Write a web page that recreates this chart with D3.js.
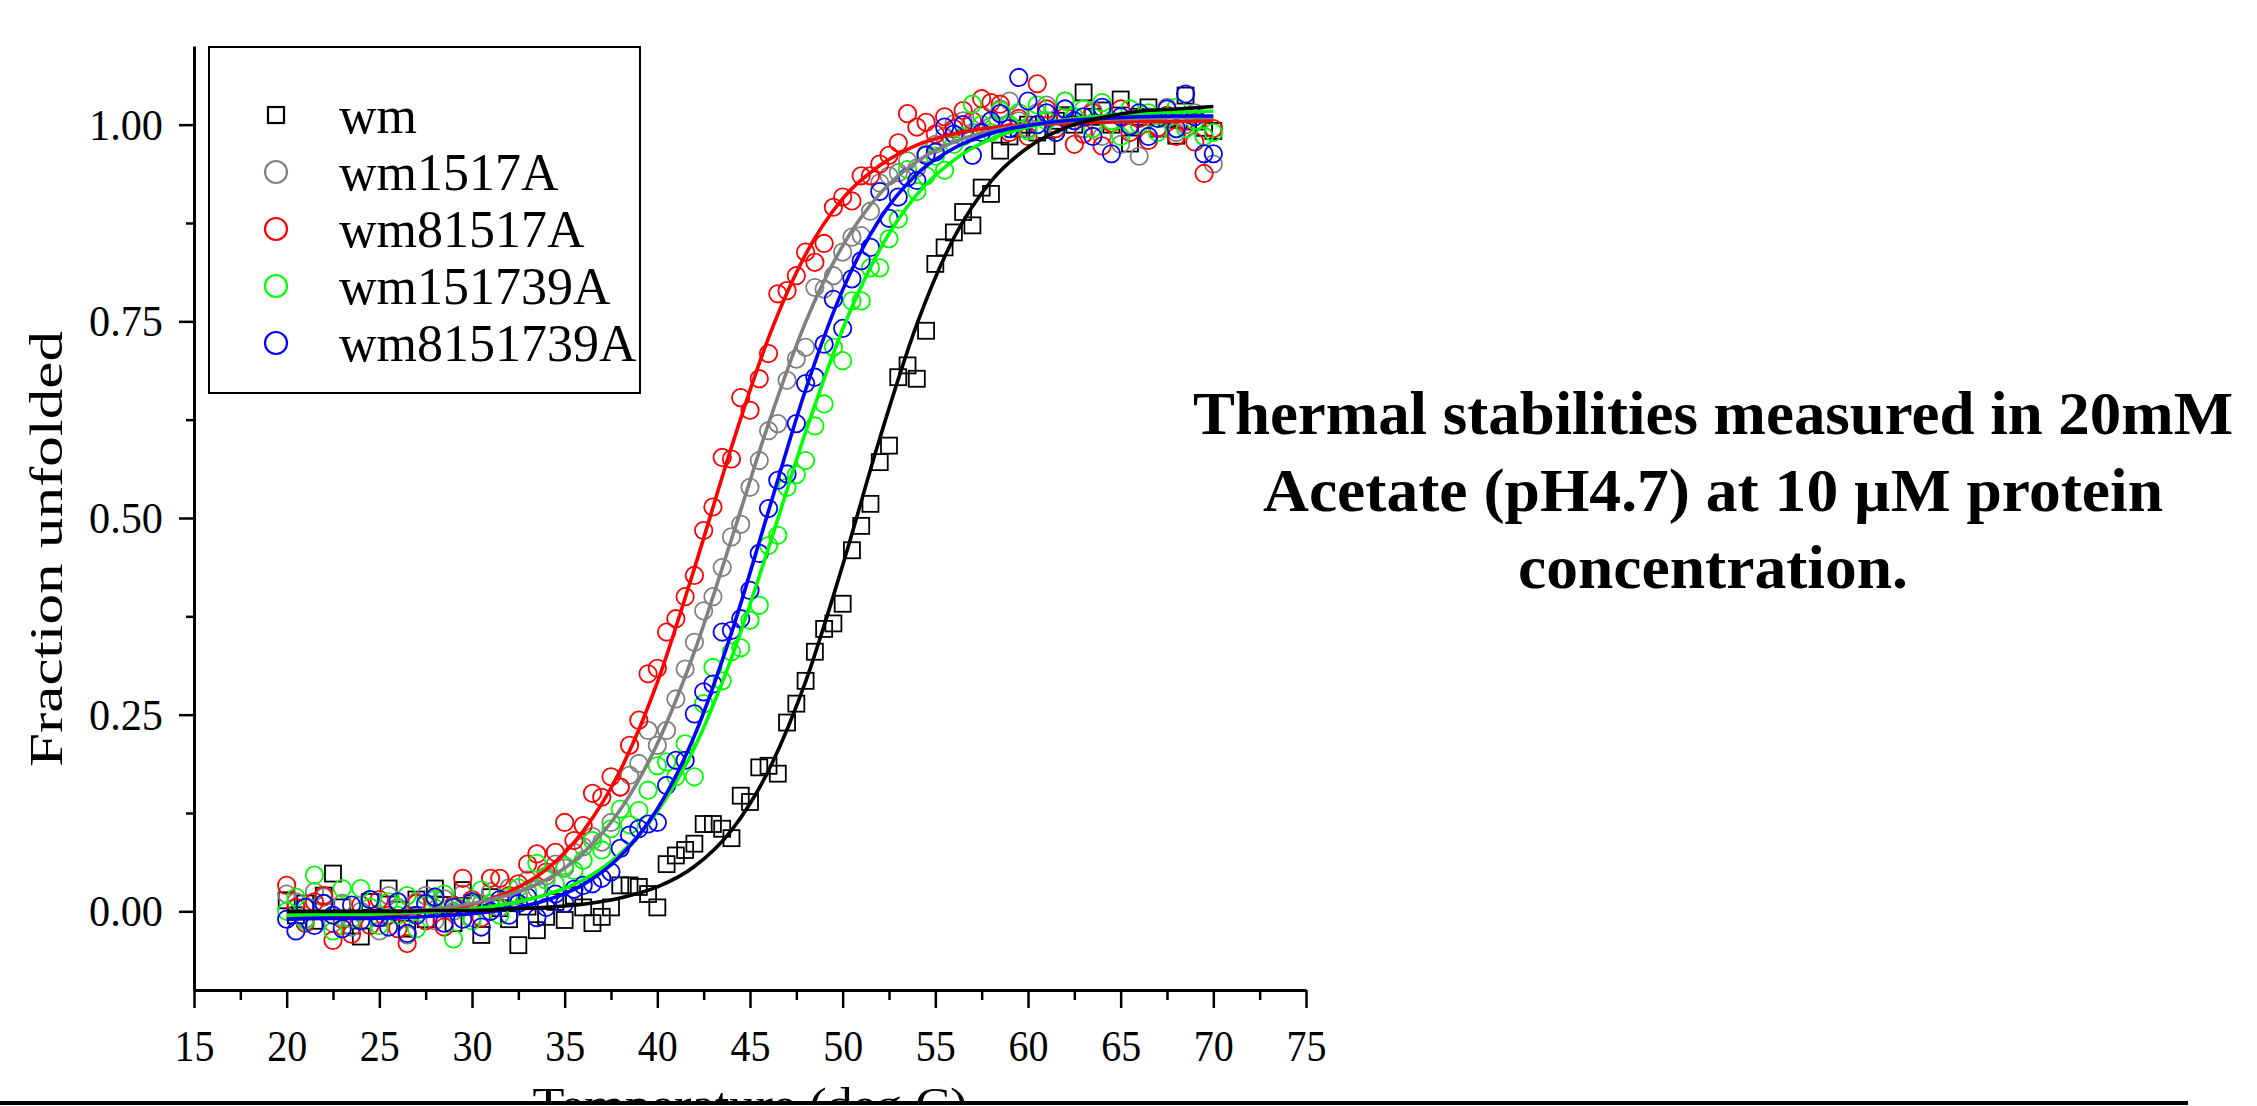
<!DOCTYPE html>
<html>
<head>
<meta charset="utf-8">
<title>Thermal stabilities</title>
<script src="https://cdn.jsdelivr.net/npm/d3@7"></script>
<style>
body { margin: 0; background: #fff; }
text { font-family: "Liberation Serif", "Times New Roman", serif; }
</style>
</head>
<body>
<svg width="2257" height="1106"></svg>
<script>
// measurement grid (deg C)
var temps = [20,20.5,21,21.5,22,22.5,23,23.5,24,24.5,25,25.5,26,26.5,27,27.5,28,28.5,29,29.5,
  30,30.5,31,31.5,32,32.5,33,33.5,34,34.5,35,35.5,36,36.5,37,37.5,38,38.5,39,39.5,
  40,40.5,41,41.5,42,42.5,43,43.5,44,44.5,45,45.5,46,46.5,47,47.5,48,48.5,49,49.5,
  50,50.5,51,51.5,52,52.5,53,53.5,54,54.5,55,55.5,56,56.5,57,57.5,58,58.5,59,59.5,
  60,60.5,61,61.5,62,62.5,63,63.5,64,64.5,65,65.5,66,66.5,67,67.5,68,68.5,69,69.5,70];

var wm = [0.014,-0.005,0.010,-0.012,0.020,0.048,0.005,-0.018,-0.032,0.012,
  -0.008,0.029,0.002,-0.022,0.015,-0.010,0.029,0.008,-0.015,0.027,
  0.010,-0.030,0.018,0.004,-0.010,-0.043,0.006,-0.024,-0.007,0.012,
  -0.011,0.020,0.005,-0.015,-0.007,0.005,0.033,0.033,0.031,0.022,
  0.005,0.060,0.071,0.078,0.086,0.111,0.111,0.105,0.093,0.147,
  0.139,0.183,0.185,0.175,0.240,0.264,0.293,0.330,0.359,0.366,
  0.391,0.459,0.490,0.518,0.571,0.592,0.679,0.694,0.677,0.738,
  0.823,0.844,0.863,0.889,0.872,0.920,0.912,0.967,0.985,0.995,
  1.000,0.990,0.973,1.005,1.012,1.000,1.041,1.010,1.018,1.000,
  1.032,0.976,1.010,1.022,0.995,1.008,0.986,1.037,1.004,0.996,0.992];

var wm1517A = [0.022,0.012,-0.010,0.025,0.018,-0.015,0.010,-0.020,0.000,0.015,
  -0.025,0.020,0.005,-0.030,0.012,0.020,-0.012,0.016,0.000,0.022,
  -0.008,0.010,0.025,0.005,0.030,0.020,0.040,0.028,0.045,0.060,
  0.055,0.075,0.082,0.095,0.088,0.113,0.158,0.173,0.188,0.230,
  0.211,0.230,0.270,0.308,0.342,0.382,0.400,0.437,0.476,0.492,
  0.539,0.573,0.611,0.620,0.675,0.702,0.717,0.793,0.791,0.808,
  0.838,0.857,0.859,0.890,0.926,0.935,0.939,0.954,0.945,0.963,
  0.975,0.985,1.001,1.005,0.990,1.012,0.998,1.020,1.030,1.005,
  0.995,1.015,1.025,1.000,1.030,1.010,0.995,1.018,0.985,1.005,
  0.975,1.000,0.960,1.010,0.995,1.022,0.990,1.000,1.015,0.985,0.950];

var wm81517A = [0.033,0.005,-0.015,0.012,0.020,-0.037,-0.010,-0.029,0.008,-0.018,
  0.015,-0.005,-0.022,-0.041,0.010,-0.012,0.018,-0.020,0.008,0.042,
  0.015,-0.008,0.042,0.042,0.020,0.035,0.060,0.073,0.050,0.075,
  0.113,0.090,0.109,0.150,0.145,0.171,0.158,0.211,0.243,0.302,
  0.309,0.355,0.372,0.400,0.427,0.484,0.514,0.577,0.575,0.653,
  0.637,0.677,0.709,0.785,0.789,0.808,0.838,0.825,0.849,0.895,
  0.908,0.903,0.935,0.935,0.950,0.961,0.977,1.014,0.997,1.003,
  0.988,1.010,0.995,1.018,1.005,1.033,1.028,1.026,0.990,1.008,
  0.985,1.052,1.020,0.995,1.010,0.975,0.988,1.015,0.973,1.002,
  1.020,0.990,1.008,0.980,0.996,1.012,0.985,1.005,0.978,0.938,0.995];

var wm151739A = [0.000,0.018,-0.012,0.046,0.010,-0.025,0.029,-0.010,0.029,0.005,
  -0.018,0.012,-0.005,0.020,-0.022,0.008,0.015,0.022,-0.035,0.005,
  -0.012,0.027,0.010,-0.005,0.018,0.030,0.025,0.061,0.040,0.035,
  0.058,0.052,0.065,0.090,0.078,0.105,0.130,0.110,0.128,0.154,
  0.185,0.190,0.171,0.213,0.171,0.264,0.310,0.293,0.330,0.335,
  0.370,0.389,0.465,0.478,0.539,0.555,0.573,0.617,0.645,0.717,
  0.700,0.776,0.776,0.818,0.818,0.855,0.880,0.943,0.915,0.935,
  0.960,0.942,0.975,0.985,1.026,1.000,0.990,1.018,1.000,1.015,
  0.992,1.025,1.005,0.990,1.030,1.010,1.020,0.995,1.028,1.005,
  0.985,1.020,1.000,1.015,0.990,1.010,1.022,0.995,1.005,0.985,0.990];

var wm8151739A = [-0.010,-0.025,0.005,-0.018,0.010,-0.005,-0.022,0.008,-0.012,0.015,
  -0.008,-0.020,0.012,-0.028,-0.005,0.010,0.018,-0.015,0.005,-0.010,
  0.012,-0.020,0.000,0.015,-0.005,0.010,0.018,-0.008,0.005,0.022,
  0.010,0.028,0.033,0.035,0.042,0.050,0.080,0.097,0.105,0.111,
  0.113,0.160,0.192,0.192,0.251,0.279,0.289,0.355,0.357,0.372,
  0.408,0.455,0.512,0.548,0.556,0.620,0.671,0.679,0.721,0.778,
  0.741,0.804,0.827,0.844,0.915,0.881,0.908,0.933,0.929,0.961,
  0.965,0.997,0.988,1.000,0.961,0.990,1.005,1.014,0.995,1.060,
  1.030,1.000,1.015,0.990,1.020,1.005,1.010,0.985,1.022,0.963,
  1.010,0.998,1.015,0.985,1.008,1.020,0.995,1.039,1.010,0.963,0.963];

// fitted curves, read every 2 deg C
var fitT = [20,22,24,26,28,30,32,34,36,38,40,42,44,46,48,50,52,54,56,58,60,62,64,66,68,70];
var wmFit = [0.000,0.000,0.000,0.000,0.001,0.001,0.003,0.005,0.009,0.017,0.031,0.057,0.103,0.179,0.292,0.440,0.601,0.746,0.856,0.928,0.971,0.996,1.009,1.017,1.020,1.023];
var wm1517AFit = [-0.004,-0.004,-0.002,0.000,0.003,0.010,0.021,0.040,0.074,0.129,0.213,0.330,0.473,0.620,0.749,0.846,0.912,0.953,0.978,0.992,1.000,1.004,1.007,1.008,1.009,1.009];
var wm81517AFit = [-0.009,-0.008,-0.007,-0.004,0.001,0.009,0.025,0.053,0.102,0.179,0.291,0.436,0.590,0.729,0.835,0.906,0.948,0.974,0.988,0.996,1.000,1.002,1.003,1.004,1.004,1.005];
var wm151739AFit = [-0.005,-0.004,-0.004,-0.002,0.000,0.003,0.010,0.021,0.040,0.073,0.127,0.208,0.322,0.462,0.609,0.740,0.841,0.911,0.955,0.982,0.997,1.006,1.011,1.014,1.016,1.017];
var wm8151739AFit = [-0.010,-0.009,-0.009,-0.008,-0.006,-0.003,0.003,0.014,0.034,0.070,0.130,0.223,0.354,0.509,0.663,0.790,0.880,0.937,0.970,0.989,0.999,1.005,1.008,1.010,1.011,1.011];

var names = ['wm', 'wm1517A', 'wm81517A', 'wm151739A', 'wm8151739A'];
var colors = ['#000000', '#808080', '#ff0000', '#00ff00', '#0000ff'];
var values = [wm, wm1517A, wm81517A, wm151739A, wm8151739A];
var fits = [wmFit, wm1517AFit, wm81517AFit, wm151739AFit, wm8151739AFit];

var xTicks = [15,20,25,30,35,40,45,50,55,60,65,70,75];
var xMinor = [17.5,22.5,27.5,32.5,37.5,42.5,47.5,52.5,57.5,62.5,67.5,72.5];
var yTicks = [0, 0.25, 0.5, 0.75, 1.0];
var yMinor = [0.125, 0.375, 0.625, 0.875];
var titleLines = ['Thermal stabilities measured in 20mM', 'Acetate (pH4.7) at 10 \u00b5M protein', 'concentration.'];

var svg = d3.select('svg');
svg.append('rect').attr('width', 2257).attr('height', 1106).attr('fill', '#fff');

var x = d3.scaleLinear().domain([15, 75]).range([194, 1306]);
var y = d3.scaleLinear().domain([-0.1, 1.1]).range([990, 46]);

// axes
var gx = svg.append('g').attr('transform', 'translate(0,990)')
    .call(d3.axisBottom(x).tickValues(xTicks).tickSize(18).tickPadding(21).tickSizeOuter(0));
svg.append('g').attr('transform', 'translate(0,990)')
    .call(d3.axisBottom(x).tickValues(xMinor).tickSize(10).tickFormat('').tickSizeOuter(0))
    .select('.domain').remove();
var gy = svg.append('g').attr('transform', 'translate(194,0)')
    .call(d3.axisLeft(y).tickValues(yTicks).tickFormat(d3.format('.2f')).tickSize(15).tickPadding(16).tickSizeOuter(0));
svg.append('g').attr('transform', 'translate(194,0)')
    .call(d3.axisLeft(y).tickValues(yMinor).tickSize(8).tickFormat('').tickSizeOuter(0))
    .select('.domain').remove();

svg.selectAll('.domain').attr('stroke', '#000').attr('stroke-width', 3);
svg.selectAll('.tick line').attr('stroke', '#000').attr('stroke-width', 2.5);
svg.selectAll('.tick text').attr('fill', '#000').attr('font-size', 45)
    .style('font-family', '"Liberation Serif", serif').attr('lengthAdjust', 'spacingAndGlyphs');
gx.selectAll('.tick text').attr('textLength', 40);
gy.selectAll('.tick text').attr('textLength', 74);

// data points
values.forEach(function(vals, s) {
    var g = svg.append('g');
    var pts = temps.map(function(t, i) { return [t, vals[i]]; });
    if (s === 0) {
        g.selectAll('rect').data(pts).enter().append('rect')
            .attr('x', function(d) { return x(d[0]) - 8; })
            .attr('y', function(d) { return y(d[1]) - 8; })
            .attr('width', 16).attr('height', 16)
            .attr('fill', 'none').attr('stroke', colors[s]).attr('stroke-width', 1.8);
    } else {
        g.selectAll('circle').data(pts).enter().append('circle')
            .attr('cx', function(d) { return x(d[0]); })
            .attr('cy', function(d) { return y(d[1]); })
            .attr('r', 8.7)
            .attr('fill', 'none').attr('stroke', colors[s]).attr('stroke-width', 1.8);
    }
});

// fit lines
var line = d3.line()
    .x(function(d) { return x(d[0]); })
    .y(function(d) { return y(d[1]); })
    .curve(d3.curveMonotoneX);
[2, 1, 3, 4, 0].forEach(function(s) {
    svg.append('path')
        .datum(fitT.map(function(t, i) { return [t, fits[s][i]]; }))
        .attr('d', line)
        .attr('fill', 'none').attr('stroke', colors[s]).attr('stroke-width', 3.6);
});

// legend
var lg = svg.append('g');
lg.append('rect').attr('x', 209).attr('y', 47).attr('width', 431).attr('height', 346)
    .attr('fill', '#fff').attr('stroke', '#000').attr('stroke-width', 2);
names.forEach(function(n, i) {
    var cy = 115 + i * 57;
    if (i === 0) {
        lg.append('rect').attr('x', 276 - 8).attr('y', cy - 8).attr('width', 16).attr('height', 16)
            .attr('fill', 'none').attr('stroke', colors[i]).attr('stroke-width', 2.2);
    } else {
        lg.append('circle').attr('cx', 276).attr('cy', cy).attr('r', 11)
            .attr('fill', 'none').attr('stroke', colors[i]).attr('stroke-width', 2.2);
    }
    lg.append('text').attr('x', 339).attr('y', cy + 18).attr('font-size', 52).text(n);
});

// axis titles
svg.append('text')
    .attr('transform', 'translate(62,549) rotate(-90)')
    .attr('text-anchor', 'middle').attr('font-size', 46)
    .attr('textLength', 436).attr('lengthAdjust', 'spacingAndGlyphs')
    .text('Fraction unfolded');
svg.append('text')
    .attr('x', 750).attr('y', 1120)
    .attr('text-anchor', 'middle').attr('font-size', 46)
    .attr('textLength', 435).attr('lengthAdjust', 'spacingAndGlyphs')
    .text('Temperature (deg C)');

// bottom border of the captured frame
svg.append('rect').attr('x', 0).attr('y', 1101).attr('width', 2257).attr('height', 5).attr('fill', '#fff');
svg.append('rect').attr('x', 0).attr('y', 1101).attr('width', 2188).attr('height', 4).attr('fill', '#000');

// side title
var titleLen = [1040, 900, 390];
titleLines.forEach(function(t, i) {
    svg.append('text')
        .attr('x', 1713).attr('y', 434 + i * 77)
        .attr('text-anchor', 'middle').attr('font-size', 62).attr('font-weight', 'bold')
        .attr('textLength', titleLen[i]).attr('lengthAdjust', 'spacingAndGlyphs')
        .text(t);
});
</script>
</body>
</html>
